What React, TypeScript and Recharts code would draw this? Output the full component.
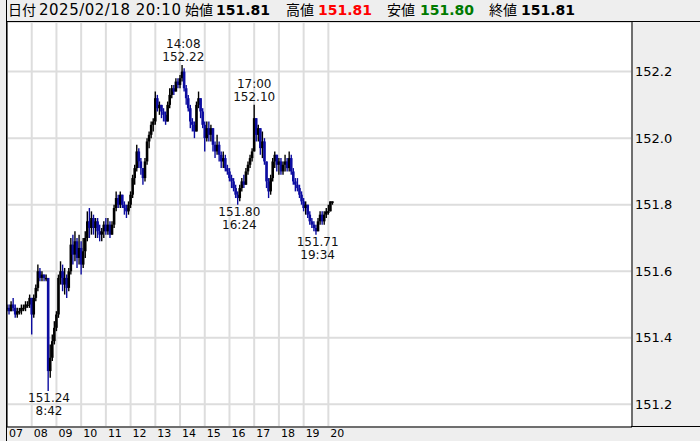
import { ComposedChart, Bar, XAxis, YAxis, CartesianGrid, ReferenceDot, ReferenceLine } from 'recharts';

// USD/JPY 5-minute candles, 2025/02/18 07:00 - 20:10 (minutes from 07:00 = index * 5)
const firstOpen = 151.49;

const closes = [
  // 07
  151.49, 151.48, 151.50, 151.49, 151.47, 151.48, 151.48, 151.49, 151.49, 151.50, 151.50, 151.52,
  // 08
  151.47, 151.52, 151.55, 151.60, 151.58, 151.59, 151.58, 151.58, 151.30, 151.34, 151.39, 151.43,
  // 09
  151.47, 151.58, 151.60, 151.56, 151.58, 151.55, 151.60, 151.68, 151.65, 151.69, 151.64, 151.67,
  // 10
  151.62, 151.66, 151.70, 151.75, 151.73, 151.76, 151.73, 151.75, 151.72, 151.71, 151.72, 151.74,
  // 11
  151.72, 151.74, 151.71, 151.74, 151.79, 151.82, 151.80, 151.83, 151.80, 151.79, 151.78, 151.80,
  // 12
  151.83, 151.88, 151.91, 151.96, 151.93, 151.91, 151.88, 151.93, 151.99, 152.01, 152.04, 152.05,
  // 13
  152.12, 152.09, 152.10, 152.08, 152.07, 152.05, 152.10, 152.13, 152.15, 152.14, 152.17, 152.16,
  // 14
  152.18, 152.20, 152.15, 152.12, 152.09, 152.05, 152.04, 152.02, 152.10, 152.12, 152.08, 152.04,
  // 15
  152.00, 152.03, 152.01, 152.03, 151.98, 151.96, 151.98, 151.95, 151.93, 151.94, 151.91, 151.90,
  // 16
  151.88, 151.87, 151.85, 151.83, 151.82, 151.85, 151.87, 151.86, 151.90, 151.92, 151.94, 151.96,
  // 17
  152.06, 152.01, 152.03, 151.97, 151.99, 151.93, 151.87, 151.84, 151.88, 151.93, 151.95, 151.92,
  // 18
  151.93, 151.90, 151.92, 151.93, 151.91, 151.94, 151.90, 151.87, 151.86, 151.85, 151.83, 151.81,
  // 19
  151.79, 151.80, 151.77, 151.75, 151.74, 151.73, 151.72, 151.75, 151.77, 151.75, 151.77, 151.78,
  // 20
  151.78, 151.81, 151.81,
];

const highs = [
  151.50, 151.50, 151.51, 151.52, 151.50, 151.49, 151.49, 151.50, 151.50, 151.51, 151.51, 151.53,
  151.52, 151.53, 151.56, 151.62, 151.61, 151.60, 151.59, 151.59, 151.58, 151.38, 151.41, 151.45,
  151.48, 151.59, 151.63, 151.62, 151.61, 151.59, 151.61, 151.70, 151.71, 151.72, 151.70, 151.71,
  151.69, 151.70, 151.72, 151.78, 151.79, 151.78, 151.77, 151.76, 151.76, 151.74, 151.73, 151.75,
  151.76, 151.76, 151.75, 151.75, 151.80, 151.84, 151.83, 151.84, 151.83, 151.81, 151.80, 151.81,
  151.84, 151.89, 151.92, 151.98, 151.97, 151.94, 151.91, 151.94, 152.00, 152.02, 152.05, 152.06,
  152.14, 152.13, 152.11, 152.10, 152.09, 152.08, 152.11, 152.15, 152.16, 152.16, 152.18, 152.18,
  152.19, 152.22, 152.21, 152.16, 152.13, 152.10, 152.06, 152.05, 152.11, 152.14, 152.12, 152.09,
  152.05, 152.05, 152.05, 152.04, 152.03, 151.99, 152.01, 151.99, 151.96, 151.96, 151.95, 151.92,
  151.91, 151.89, 151.88, 151.86, 151.84, 151.86, 151.88, 151.89, 151.91, 151.93, 151.95, 151.97,
  152.10, 152.06, 152.04, 152.03, 152.02, 152.00, 151.93, 151.88, 151.89, 151.94, 151.96, 151.95,
  151.94, 151.94, 151.93, 151.95, 151.94, 151.96, 151.95, 151.91, 151.88, 151.88, 151.86, 151.84,
  151.82, 151.81, 151.80, 151.78, 151.76, 151.75, 151.74, 151.76, 151.78, 151.78, 151.78, 151.79,
  151.80, 151.81, 151.81,
];

const lows = [
  151.48, 151.47, 151.48, 151.48, 151.46, 151.46, 151.47, 151.47, 151.48, 151.48, 151.49, 151.49,
  151.41, 151.46, 151.51, 151.54, 151.57, 151.57, 151.57, 151.57, 151.24, 151.28, 151.33, 151.38,
  151.42, 151.46, 151.56, 151.54, 151.53, 151.52, 151.54, 151.59, 151.62, 151.63, 151.61, 151.62,
  151.59, 151.61, 151.64, 151.69, 151.70, 151.71, 151.71, 151.70, 151.70, 151.69, 151.69, 151.70,
  151.71, 151.71, 151.70, 151.71, 151.73, 151.78, 151.79, 151.79, 151.79, 151.77, 151.76, 151.77,
  151.79, 151.82, 151.86, 151.90, 151.91, 151.89, 151.86, 151.87, 151.92, 151.97, 152.00, 152.02,
  152.04, 152.08, 152.07, 152.06, 152.05, 152.04, 152.05, 152.09, 152.12, 152.13, 152.14, 152.15,
  152.15, 152.17, 152.14, 152.10, 152.08, 152.03, 152.02, 152.00, 152.02, 152.09, 152.06, 152.03,
  151.96, 151.99, 151.99, 151.99, 151.96, 151.94, 151.95, 151.93, 151.91, 151.91, 151.90, 151.89,
  151.87, 151.85, 151.84, 151.82, 151.80, 151.81, 151.84, 151.85, 151.86, 151.89, 151.91, 151.93,
  151.96, 151.99, 151.99, 151.95, 151.94, 151.92, 151.85, 151.82, 151.83, 151.87, 151.91, 151.90,
  151.89, 151.89, 151.89, 151.90, 151.90, 151.90, 151.89, 151.86, 151.84, 151.84, 151.82, 151.80,
  151.78, 151.77, 151.76, 151.74, 151.73, 151.72, 151.71, 151.72, 151.74, 151.74, 151.74, 151.76,
  151.77, 151.78, 151.80,
];

const hourTicks = [0, 60, 120, 180, 240, 300, 360, 420, 480, 540, 600, 660, 720, 780];
const hourLabels = ['07', '08', '09', '10', '11', '12', '13', '14', '15', '16', '17', '18', '19', '20'];
const priceTicks = [151.2, 151.4, 151.6, 151.8, 152.0, 152.2];

// high / low markers
const markMinutes = [102, 428, 564, 600, 754];
const markPrices = [151.24, 152.22, 151.8, 152.1, 151.71];
const markTimes = ['8:42', '14:08', '16:24', '17:00', '19:34'];
const markIsHigh = [false, true, false, true, false];

const headerLabels = ['日付', '始値', '高値', '安値', '終値'];
const headerValues = ['2025/02/18 20:10', '151.81', '151.81', '151.80', '151.81'];

const candles = closes.map((close, i) => ({
  t: i * 5,
  open: i === 0 ? firstOpen : closes[i - 1],
  high: highs[i],
  low: lows[i],
  close,
  range: [lows[i], highs[i]],
}));

const FONT = '"DejaVu Sans", "Noto Sans CJK JP", sans-serif';
const UP = '#000000';
const DOWN = '#0c0ca0';

const Candle = (props: any) => {
  const { x, y, width, height, payload } = props;
  if (!payload) return null;
  const top = Math.min(y, y + height);
  const h = Math.abs(height);
  const span = payload.high - payload.low;
  const py = (v: number) => (span > 0 ? top + ((payload.high - v) / span) * h : top);
  const cx = x + width / 2;
  const yo = py(payload.open);
  const yc = py(payload.close);
  const color = payload.close >= payload.open ? UP : DOWN;
  return (
    <g>
      <line x1={cx} x2={cx} y1={top} y2={top + Math.max(h, 1)} stroke={color} strokeWidth={1.4} />
      <rect x={cx - 1.3} y={Math.min(yo, yc)} width={2.6} height={Math.max(Math.abs(yc - yo), 1.5)} fill={color} />
    </g>
  );
};

const XTick = (props: any) => {
  const idx = hourTicks.indexOf(props.payload.value);
  return (
    <text x={props.x + 2} y={437} fontSize={11} fontFamily={FONT} fill="#000">
      {hourLabels[idx]}
    </text>
  );
};

const YTick = (props: any) => (
  <text x={635} y={props.y + 4.5} fontSize={13} fontFamily={FONT} fill="#000">
    {Number(props.payload.value).toFixed(1)}
  </text>
);

const markShape = (i: number) => (props: any) => {
  const { cx, cy } = props;
  const price = markPrices[i].toFixed(2);
  const lines = markIsHigh[i] ? [markTimes[i], price] : [price, markTimes[i]];
  const y0 = markIsHigh[i] ? cy - 17 : cy + 11;
  return (
    <g>
      {lines.map((s, k) => (
        <text key={k} x={cx} y={y0 + k * 13} textAnchor="middle" fontSize={12} fontFamily={FONT} fill="#111">
          {s}
        </text>
      ))}
    </g>
  );
};

export default function App() {
  const labelX = [8, 185, 286, 387, 489];
  const valueX = [39, 216, 318, 420, 521];
  const valueColor = ['#000', '#000', '#ff0000', '#007a00', '#000'];

  return (
    <div style={{ position: 'absolute', left: 0, top: 0, width: 700, height: 441, background: '#eeeeee', overflow: 'hidden' }}>
      {headerLabels.map((s, i) => (
        <span
          key={'l' + i}
          style={{ position: 'absolute', left: labelX[i], top: 0, height: 21, lineHeight: '21px', fontSize: 14, fontFamily: FONT, color: '#000', whiteSpace: 'nowrap' }}
        >
          {s}
        </span>
      ))}
      {headerValues.map((s, i) => (
        <span
          key={'v' + i}
          style={{
            position: 'absolute',
            left: valueX[i],
            top: 0,
            height: 21,
            lineHeight: '21px',
            fontSize: i === 0 ? 15 : 14,
            letterSpacing: i === 0 ? 0.5 : 0,
            fontWeight: i === 0 ? 'normal' : 'bold',
            fontFamily: FONT,
            color: valueColor[i],
            whiteSpace: 'nowrap',
          }}
        >
          {s}
        </span>
      ))}
      <div style={{ position: 'absolute', left: 0, top: 0 }}>
        <ComposedChart width={700} height={441} data={candles} margin={{ top: 22, right: 0, bottom: 0, left: 7 }}>
          <CartesianGrid fill="#ffffff" stroke="#dddddd" strokeWidth={2} />
          <XAxis
            dataKey="t"
            type="number"
            domain={[0, 1517]}
            ticks={hourTicks}
            interval={0}
            height={14}
            allowDataOverflow
            axisLine={{ stroke: '#000' }}
            tickLine={false}
            tick={<XTick />}
          />
          <YAxis
            orientation="right"
            type="number"
            domain={[151.132, 152.349]}
            ticks={priceTicks}
            interval={0}
            width={68}
            allowDataOverflow
            axisLine={{ stroke: '#000' }}
            tickLine={false}
            tick={<YTick />}
          />
          <ReferenceLine x={0} stroke="#000" />
          <Bar dataKey="range" shape={<Candle />} barSize={2} isAnimationActive={false} />
          {markMinutes.map((m, i) => (
            <ReferenceDot key={i} x={m} y={markPrices[i]} r={0} shape={markShape(i)} />
          ))}
        </ComposedChart>
      </div>
      <div style={{ position: 'absolute', left: 6, top: 0, width: 1, height: 441, background: '#000' }} />
      <div style={{ position: 'absolute', left: 6, top: 21, width: 694, height: 1, background: '#000' }} />
      <div style={{ position: 'absolute', left: 631, top: 426, width: 69, height: 1, background: '#000' }} />
    </div>
  );
}
